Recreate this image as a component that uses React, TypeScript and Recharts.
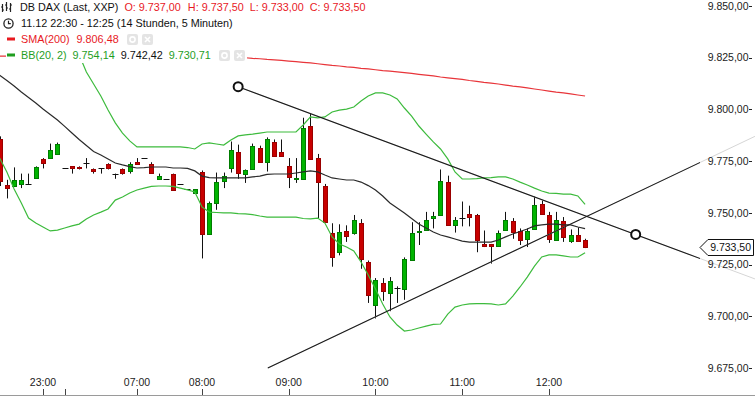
import React from 'react';
import { ComposedChart, Bar, Line, XAxis, YAxis, ReferenceLine, ReferenceDot } from 'recharts';

// DB DAX 5-minute candles, 11.12 22:30 .. 12:25 (index = candle number)
const opens = [
  9785.5, 9763.5, 9763.0, 9764.0, 9764.0, 9766.5, 9776.0, 9776.5, 9778.5, 9771.5,
  9772.5, 9772.0, 9774.0, 9771.0, 9771.5, 9773.5, 9769.0, 9771.0, 9770.0, 9774.5,
  9776.5, 9773.5, 9766.5, 9766.5, 9769.0, 9764.0, 9761.5, 9759.5, 9770.0, 9740.0,
  9755.0, 9765.5, 9772.0, 9779.5, 9768.5, 9771.5, 9781.5, 9774.5, 9784.5, 9779.5,
  9772.5, 9766.5, 9766.5, 9792.0, 9776.5, 9763.0, 9740.5, 9731.5, 9741.5, 9740.0,
  9745.0, 9726.5, 9705.5, 9716.0, 9711.0, 9713.5, 9713.0, 9727.5, 9741.0, 9741.5,
  9747.5, 9749.0, 9765.0, 9744.0, 9747.5, 9749.5, 9749.0, 9735.0, 9735.0, 9734.0,
  9741.5, 9746.0, 9741.5, 9737.5, 9742.5, 9754.5, 9749.0, 9737.0, 9746.0, 9736.5,
  9739.5, 9737.0,
];
const highs = [
  9787.0, 9766.0, 9772.0, 9769.0, 9769.0, 9772.5, 9776.5, 9783.5, 9784.0, 9771.5,
  9772.5, 9772.5, 9776.5, 9771.5, 9771.5, 9774.0, 9769.0, 9771.5, 9774.5, 9776.5,
  9776.5, 9774.5, 9769.0, 9766.5, 9769.0, 9764.0, 9761.5, 9761.5, 9770.5, 9755.5,
  9769.5, 9769.5, 9784.5, 9783.0, 9771.0, 9783.5, 9782.5, 9786.5, 9785.5, 9785.5,
  9776.5, 9776.5, 9796.0, 9798.0, 9778.5, 9764.0, 9745.0, 9744.5, 9744.0, 9749.0,
  9747.0, 9727.0, 9718.5, 9718.5, 9719.0, 9714.5, 9728.5, 9745.5, 9745.5, 9750.5,
  9750.5, 9771.0, 9768.0, 9748.0, 9755.5, 9753.5, 9749.5, 9741.5, 9735.0, 9741.5,
  9750.5, 9747.5, 9742.5, 9742.5, 9758.0, 9756.0, 9750.5, 9750.5, 9748.0, 9742.0,
  9743.0, 9737.5,
];
const lows = [
  9763.0, 9757.0, 9762.5, 9762.0, 9764.0, 9766.5, 9771.5, 9776.5, 9778.5, 9771.5,
  9769.0, 9771.0, 9771.5, 9769.0, 9769.0, 9771.0, 9766.5, 9768.5, 9769.0, 9773.5,
  9776.5, 9769.0, 9766.5, 9766.5, 9761.5, 9764.0, 9761.5, 9759.5, 9728.0, 9740.0,
  9751.5, 9762.0, 9769.5, 9766.5, 9764.5, 9771.5, 9774.5, 9770.0, 9777.5, 9777.5,
  9762.0, 9764.5, 9766.5, 9776.0, 9747.5, 9745.5, 9724.0, 9729.5, 9736.0, 9739.5,
  9723.0, 9706.5, 9699.0, 9707.5, 9702.5, 9706.5, 9708.0, 9727.5, 9734.5, 9741.5,
  9742.5, 9749.0, 9744.0, 9740.5, 9743.5, 9743.5, 9731.0, 9733.5, 9725.5, 9734.0,
  9741.5, 9737.5, 9734.5, 9733.5, 9742.5, 9749.5, 9735.5, 9737.0, 9736.0, 9735.5,
  9736.0, 9733.0,
];
const closes = [
  9765.0, 9762.0, 9766.0, 9766.0, 9764.0, 9772.0, 9774.0, 9780.5, 9783.5, 9771.5,
  9771.5, 9771.5, 9774.0, 9770.0, 9771.5, 9771.5, 9769.0, 9769.0, 9773.5, 9773.5,
  9776.5, 9769.0, 9768.0, 9766.5, 9761.5, 9764.0, 9761.5, 9761.5, 9740.0, 9755.0,
  9765.0, 9768.0, 9780.5, 9769.5, 9770.5, 9782.5, 9774.5, 9785.5, 9777.5, 9777.5,
  9767.0, 9767.0, 9791.0, 9776.0, 9765.0, 9745.5, 9729.0, 9741.0, 9739.0, 9746.5,
  9727.5, 9710.5, 9717.5, 9712.0, 9717.0, 9713.5, 9727.5, 9740.5, 9741.5, 9746.5,
  9748.5, 9765.5, 9744.0, 9746.5, 9747.5, 9748.0, 9737.0, 9734.0, 9734.0, 9740.5,
  9746.5, 9740.5, 9737.0, 9741.5, 9754.0, 9749.5, 9737.5, 9746.5, 9738.5, 9739.5,
  9736.5, 9733.5,
];

// Bollinger bands (20, 2)
const bbUpper = [
  9856.7, 9858.2, 9861.0, 9862.0, 9864.1, 9861.1, 9857.2, 9853.9, 9848.1, 9840.9,
  9833.5, 9826.4, 9818.1, 9812.3, 9806.5, 9799.7, 9793.5, 9788.6, 9784.8, 9781.9,
  9781.9, 9781.9, 9781.9, 9781.9, 9781.9, 9781.9, 9781.6, 9780.9, 9783.3, 9783.8,
  9783.3, 9782.8, 9785.2, 9787.2, 9787.7, 9788.1, 9788.6, 9789.1, 9789.1, 9789.1,
  9789.1, 9789.1, 9792.5, 9796.4, 9795.9, 9796.4, 9798.8, 9799.7, 9800.2, 9801.2,
  9804.1, 9806.5, 9808.0, 9808.0, 9807.0, 9805.1, 9800.7, 9796.8, 9792.0, 9788.1,
  9784.3, 9780.9, 9776.1, 9769.8, 9766.4, 9766.4, 9766.6, 9766.9, 9767.1, 9767.4,
  9767.4, 9766.4, 9764.9, 9763.5, 9762.0, 9760.6, 9759.6, 9759.4, 9759.1, 9759.1,
  9758.2, 9754.1,
];
const bbMiddle = [
  9816.6, 9814.0, 9811.3, 9808.4, 9805.8, 9803.1, 9800.2, 9797.6, 9794.9, 9791.8,
  9788.6, 9785.5, 9782.6, 9779.7, 9778.0, 9776.1, 9774.1, 9773.2, 9772.4, 9771.7,
  9771.9, 9772.2, 9772.2, 9772.2, 9771.7, 9771.7, 9771.5, 9770.3, 9767.8, 9767.1,
  9766.9, 9766.9, 9766.9, 9766.9, 9766.9, 9767.4, 9767.8, 9768.6, 9768.8, 9768.8,
  9768.8, 9769.3, 9769.8, 9770.3, 9769.8, 9768.3, 9766.9, 9766.4, 9765.9, 9765.9,
  9764.9, 9763.2, 9761.1, 9758.2, 9754.8, 9752.4, 9750.0, 9747.3, 9744.6, 9742.7,
  9740.8, 9739.3, 9738.4, 9737.4, 9736.4, 9735.9, 9735.9, 9735.9, 9735.9, 9736.9,
  9738.4, 9739.8, 9741.0, 9742.2, 9743.7, 9744.2, 9744.6, 9744.6, 9744.2, 9744.2,
  9743.2, 9742.4,
];
const bbLower = [
  9776.5, 9769.8, 9761.6, 9754.8, 9747.5, 9745.1, 9743.2, 9741.3, 9741.7, 9742.7,
  9743.7, 9744.6, 9747.1, 9749.0, 9750.4, 9751.9, 9756.2, 9757.7, 9759.6, 9761.1,
  9762.0, 9762.8, 9763.0, 9763.0, 9762.8, 9762.0, 9761.1, 9760.1, 9752.9, 9750.4,
  9750.2, 9750.0, 9750.0, 9749.7, 9749.5, 9749.2, 9748.5, 9748.0, 9748.0, 9748.0,
  9748.0, 9748.0, 9747.3, 9747.1, 9747.5, 9745.1, 9738.4, 9735.0, 9733.5, 9731.6,
  9726.3, 9720.0, 9713.2, 9706.0, 9699.7, 9695.8, 9692.9, 9693.4, 9694.4, 9695.3,
  9696.1, 9696.3, 9701.1, 9704.5, 9705.5, 9706.0, 9706.2, 9706.2, 9706.0, 9705.5,
  9706.0, 9709.8, 9714.2, 9719.0, 9724.3, 9728.7, 9729.7, 9729.7, 9729.2, 9728.7,
  9728.7, 9730.7,
];
const sma200 = [
  9825.8, 9825.8, 9825.7, 9825.7, 9825.7, 9825.6, 9825.6, 9825.6, 9825.6, 9825.5,
  9825.5, 9825.5, 9825.5, 9825.5, 9825.4, 9825.4, 9825.4, 9825.4, 9825.4, 9825.4,
  9825.4, 9825.3, 9825.3, 9825.3, 9825.3, 9825.3, 9825.3, 9825.3, 9825.4, 9825.4,
  9825.4, 9825.4, 9825.3, 9825.1, 9825.0, 9824.7, 9824.5, 9824.2, 9824.0, 9823.7,
  9823.4, 9823.1, 9822.8, 9822.5, 9822.1, 9821.7, 9821.3, 9821.0, 9820.6, 9820.3,
  9819.9, 9819.6, 9819.2, 9818.8, 9818.5, 9818.2, 9817.8, 9817.4, 9817.0, 9816.6,
  9816.2, 9815.7, 9815.3, 9814.9, 9814.5, 9814.0, 9813.6, 9813.1, 9812.7, 9812.3,
  9811.8, 9811.3, 9810.9, 9810.4, 9809.9, 9809.4, 9808.9, 9808.4, 9808.0, 9807.5,
  9807.0, 9806.5,
];

const timeTicks = [6, 9, 19, 28, 40, 52, 64, 76];
const timeLabels = ['23:00', '', '07:00', '08:00', '09:00', '10:00', '11:00', '12:00'];
const priceTicks = [9675, 9700, 9725, 9750, 9775, 9800, 9825, 9850];

// drawn trend lines (candle index, price)
const downTrend = [{ x: 33.0, y: 9811.0 }, { x: 104.5, y: 9718.1 }];
const downAnchors = [{ x: 33.0, y: 9811.0 }, { x: 88.0, y: 9739.6 }];
const upTrend = [{ x: 37.1, y: 9675.0 }, { x: 104.5, y: 9787.0 }];

const lastPrice = 9733.5;
const X_DOMAIN: [number, number] = [0.05, 96.9];
const Y_DOMAIN: [number, number] = [9662.0, 9852.9];

const data = opens.map((o, i) => ({
  i,
  open: o,
  high: highs[i],
  low: lows[i],
  close: closes[i],
  upper: bbUpper[i],
  mid: bbMiddle[i],
  lower: bbLower[i],
  sma: sma200[i],
}));

const RED = '#e8191f';
const GREEN = '#1f9e1f';
const FONT = '"Liberation Sans", Arial, sans-serif';

const fmt = (v: number) => {
  const [a, b] = v.toFixed(2).split('.');
  return a.replace(/\B(?=(\d{3})+(?!\d))/g, '.') + ',' + b;
};

const Candle = (props: any) => {
  const { x, y, width, height, payload } = props;
  if (!payload || !Number.isFinite(y) || !(height > 0)) return null;
  const { open, high, low, close } = payload;
  const k = height / (high - Y_DOMAIN[0]);
  const py = (v: number) => y + (high - v) * k;
  const c = Math.round(x + width / 2);
  const yo = py(open);
  const yc = py(close);
  const top = Math.round(Math.min(yo, yc)) + 0.5;
  const h = Math.max(Math.round(Math.abs(yo - yc)), 1);
  const up = close > open;
  return (
    <g>
      <line x1={c + 0.5} x2={c + 0.5} y1={py(high)} y2={py(low)} stroke="#111" strokeWidth={1} />
      {open === close ? (
        <line x1={c - 2.5} x2={c + 3.5} y1={top} y2={top} stroke="#111" strokeWidth={1} />
      ) : (
        <rect
          x={c - 1.5}
          y={top}
          width={4}
          height={h}
          fill={up ? '#00b400' : '#c80000'}
          stroke={up ? '#007c00' : '#9a0000'}
          strokeWidth={1}
        />
      )}
    </g>
  );
};

const TimeTick = (props: any) => {
  const { x, y, payload } = props;
  const label = timeLabels[timeTicks.indexOf(payload.value)] || '';
  return (
    <g>
      <line x1={Math.round(x) + 0.5} x2={Math.round(x) + 0.5} y1={y} y2={y - 6} stroke="#444" />
      <text x={x} y={y - 9} textAnchor="middle" fontSize={10.5} fontFamily={FONT} fill="#222">
        {label}
      </text>
    </g>
  );
};

const PriceTick = (props: any) => {
  const { x, y, payload } = props;
  const yy = Math.round(y) + 0.5;
  return (
    <g>
      <text x={x + 48.5} y={y} dy="0.35em" textAnchor="end" fontSize={10.5} fontFamily={FONT} fill="#222">
        {fmt(payload.value)}
      </text>
      <line x1={x + 49} x2={x + 52} y1={yy} y2={yy} stroke="#222" />
    </g>
  );
};

const PriceTag = (props: any) => {
  const { viewBox } = props;
  if (!viewBox) return null;
  const x0 = viewBox.x + viewBox.width;
  const y0 = Math.round(viewBox.y) + 0.5;
  const pts = `${x0},${y0} ${x0 + 8},${y0 - 8} ${x0 + 53.5},${y0 - 8} ${x0 + 53.5},${y0 + 8} ${x0 + 8},${y0 + 8}`;
  return (
    <g>
      <polygon points={pts} fill="#fff" stroke="#111" strokeWidth={1} />
      <text x={x0 + 51} y={y0} dy="0.35em" textAnchor="end" fontSize={10.5} fontFamily={FONT} fill="#111">
        {fmt(lastPrice)}
      </text>
    </g>
  );
};

const GreyButtons = () => (
  <span style={{ display: 'inline-flex', gap: 4, marginLeft: 8 }}>
    <svg width={11} height={11}>
      <rect width={11} height={11} rx={2} fill="#e4e4e4" />
      <circle cx={5.5} cy={5.5} r={2.6} fill="none" stroke="#fff" strokeWidth={1.6} />
    </svg>
    <svg width={11} height={11}>
      <rect width={11} height={11} rx={2} fill="#e4e4e4" />
      <path d="M3 3 L8 8 M8 3 L3 8" stroke="#fff" strokeWidth={1.6} />
    </svg>
  </span>
);

const rowStyle = (top: number, left: number): React.CSSProperties => ({
  position: 'absolute',
  top,
  left,
  height: 16,
  lineHeight: '16px',
  display: 'flex',
  alignItems: 'center',
  background: '#fff',
  whiteSpace: 'nowrap',
  paddingRight: 2,
});

const InfoBox = () => (
  <div style={{ fontFamily: FONT, fontSize: 10.8, color: '#111' }}>
    <div style={rowStyle(-1, 1)}>
      <svg width={11} height={12} style={{ marginRight: 8 }}>
        <g stroke="#222" strokeWidth={1.2}>
          <line x1={1.5} x2={1.5} y1={3} y2={11} />
          <line x1={0} x2={1.5} y1={6} y2={6} />
          <line x1={1.5} x2={3} y1={9} y2={9} />
          <line x1={5.5} x2={5.5} y1={1} y2={10} />
          <line x1={4} x2={5.5} y1={4} y2={4} />
          <line x1={5.5} x2={7} y1={7} y2={7} />
          <line x1={9.5} x2={9.5} y1={2} y2={11} />
          <line x1={8} x2={9.5} y1={8} y2={8} />
          <line x1={9.5} x2={11} y1={4} y2={4} />
        </g>
      </svg>
      <span>DB DAX (Last, XXP)</span>
      <span style={{ color: RED, marginLeft: 6 }}>O: 9.737,00</span>
      <span style={{ color: RED, marginLeft: 7 }}>H: 9.737,50</span>
      <span style={{ color: RED, marginLeft: 6 }}>L: 9.733,00</span>
      <span style={{ color: RED, marginLeft: 6 }}>C: 9.733,50</span>
    </div>
    <div style={rowStyle(15, 3)}>
      <svg width={11} height={11} style={{ marginRight: 7 }}>
        <circle cx={5.5} cy={5.5} r={4.6} fill="none" stroke="#222" strokeWidth={1.3} />
        <path d="M5.5 2.8 V5.7 H7.8" fill="none" stroke="#222" strokeWidth={1.2} />
      </svg>
      <span>11.12 22:30 - 12:25 (14 Stunden, 5 Minuten)</span>
    </div>
    <div style={rowStyle(31, 6)}>
      <svg width={9} height={4} style={{ marginRight: 6 }}>
        <rect x={1} y={0.5} width={8} height={3} fill={RED} />
      </svg>
      <span style={{ color: RED }}>SMA(200)</span>
      <span style={{ color: RED, marginLeft: 7 }}>9.806,48</span>
      <GreyButtons />
    </div>
    <div style={rowStyle(47, 6)}>
      <svg width={9} height={4} style={{ marginRight: 6 }}>
        <rect x={1} y={0.5} width={8} height={3} fill={GREEN} />
      </svg>
      <span style={{ color: GREEN }}>BB(20, 2)</span>
      <span style={{ color: GREEN, marginLeft: 6 }}>9.754,14</span>
      <span style={{ color: '#111', marginLeft: 6 }}>9.742,42</span>
      <span style={{ color: GREEN, marginLeft: 6 }}>9.730,71</span>
      <GreyButtons />
    </div>
  </div>
);

export default function App() {
  return (
    <div
      style={{
        position: 'absolute',
        left: 0,
        top: 0,
        width: 755,
        height: 395,
        borderBottom: '1px solid #9a9a9a',
        background: '#fff',
      }}
    >
      <ComposedChart width={755} height={395} data={data} margin={{ top: 0, right: 0, bottom: 0, left: 0 }}>
        <XAxis
          type="number"
          dataKey="i"
          domain={X_DOMAIN}
          allowDataOverflow
          ticks={timeTicks}
          interval={0}
          mirror
          axisLine={false}
          tickLine={false}
          tickSize={0}
          tickMargin={0}
          tick={<TimeTick />}
        />
        <YAxis
          orientation="right"
          width={55}
          domain={Y_DOMAIN}
          allowDataOverflow
          ticks={priceTicks}
          interval={0}
          axisLine={false}
          tickLine={false}
          tickSize={0}
          tickMargin={0}
          tick={<PriceTick />}
        />
        <ReferenceLine segment={downTrend} stroke="#d6d6d6" ifOverflow="visible" />
        <ReferenceLine segment={upTrend} stroke="#d6d6d6" ifOverflow="visible" />
        <Line dataKey="sma" stroke="#e8353a" strokeWidth={1.2} dot={false} isAnimationActive={false} />
        <Line dataKey="upper" stroke="#3dbb3d" strokeWidth={1.2} dot={false} isAnimationActive={false} />
        <Line dataKey="lower" stroke="#3dbb3d" strokeWidth={1.2} dot={false} isAnimationActive={false} />
        <Line dataKey="mid" stroke="#2a2a2a" strokeWidth={1.2} dot={false} isAnimationActive={false} />
        <Bar
          dataKey={(d: any) => [Y_DOMAIN[0], d.high]}
          barSize={5}
          shape={(p: any) => <Candle {...p} />}
          isAnimationActive={false}
        />
        <ReferenceLine segment={downTrend} stroke="#1a1a1a" strokeWidth={1.1} ifOverflow="hidden" />
        <ReferenceLine segment={upTrend} stroke="#1a1a1a" strokeWidth={1.1} ifOverflow="hidden" />
        {downAnchors.map((a, k) => (
          <ReferenceDot
            key={k}
            x={a.x}
            y={a.y}
            r={4.5}
            fill="#fff"
            stroke="#111"
            strokeWidth={2}
            ifOverflow="visible"
          />
        ))}
        <ReferenceLine y={lastPrice} stroke="none" label={<PriceTag />} />
      </ComposedChart>
      <div style={{ position: 'absolute', left: 0, top: 0 }}>
        <InfoBox />
      </div>
    </div>
  );
}
